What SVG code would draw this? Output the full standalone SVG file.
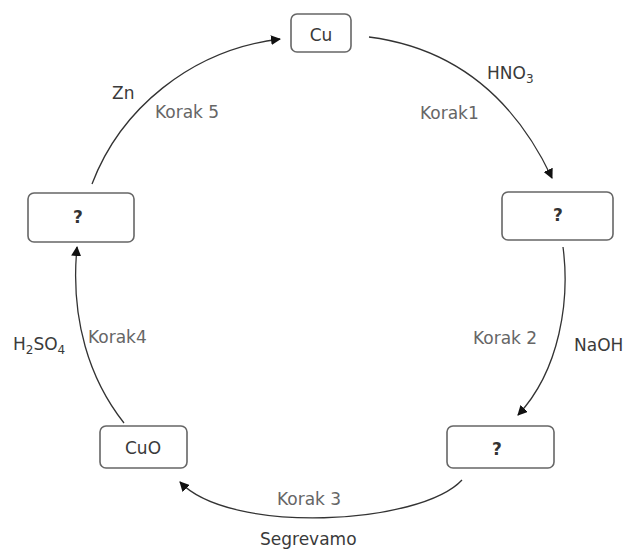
<svg xmlns="http://www.w3.org/2000/svg" width="635" height="554" viewBox="0 0 635 554">
<style>
.box{fill:#fff;stroke:#666;stroke-width:1.6}
.t{font-family:"DejaVu Sans",sans-serif;font-size:17px;fill:#3a3a3a}
.k{font-family:"DejaVu Sans",sans-serif;font-size:17px;fill:#666}
.q{font-family:"DejaVu Sans",sans-serif;font-size:17px;font-weight:bold;fill:#333;text-anchor:middle}
.c{font-family:"DejaVu Sans",sans-serif;font-size:17px;fill:#3a3a3a;text-anchor:middle}
.sub{font-size:12px}
.e{fill:none;stroke:#333;stroke-width:1.3;marker-end:url(#ah)}
</style>
<defs>
<marker id="ah" viewBox="0 0 10 10" refX="9" refY="5" markerWidth="10" markerHeight="10" markerUnits="userSpaceOnUse" orient="auto">
<path d="M0,0 L10,5 L0,10 z" fill="#111"/>
</marker>
</defs>
<g id="connectors">
<path class="e" d="M369,37 Q493,53 552,178"/>
<path class="e" d="M563,247 C570,300 560,370 518,415"/>
<path class="e" d="M462,480 C420,525 230,535 180,482"/>
<path class="e" d="M124,423 C90,380 70,320 77,247"/>
<path class="e" d="M92,184 C120,110 190,50 280,39"/>
</g>
<g id="node-cu">
<rect class="box" x="291" y="14" width="60" height="38" rx="6"/>
<text class="c" x="321" y="41">Cu</text>
</g>
<g id="node-q1">
<rect class="box" x="502" y="192" width="111" height="48" rx="6"/>
<text class="q" x="558" y="221">?</text>
</g>
<g id="node-q2">
<rect class="box" x="447" y="426" width="107" height="42" rx="6"/>
<text class="q" x="497" y="455">?</text>
</g>
<g id="node-cuo">
<rect class="box" x="100" y="426" width="87" height="42" rx="6"/>
<text class="c" x="143" y="454">CuO</text>
</g>
<g id="node-q3">
<rect class="box" x="28" y="193" width="106" height="49" rx="6"/>
<text class="q" x="78" y="223">?</text>
</g>
<g id="labels">
<text class="t" x="487" y="79">HNO<tspan class="sub" dy="4">3</tspan></text>
<text class="k" x="420" y="119">Korak1</text>
<text class="k" x="473" y="344">Korak 2</text>
<text class="t" x="574" y="351">NaOH</text>
<text class="k" x="277" y="505">Korak 3</text>
<text class="t" x="260" y="545">Segrevamo</text>
<text class="t" x="13" y="350">H<tspan class="sub" dy="4">2</tspan><tspan dy="-4">SO</tspan><tspan class="sub" dy="4">4</tspan></text>
<text class="k" x="88" y="343">Korak4</text>
<text class="t" x="112" y="99">Zn</text>
<text class="k" x="155" y="118">Korak 5</text>
</g>
</svg>
